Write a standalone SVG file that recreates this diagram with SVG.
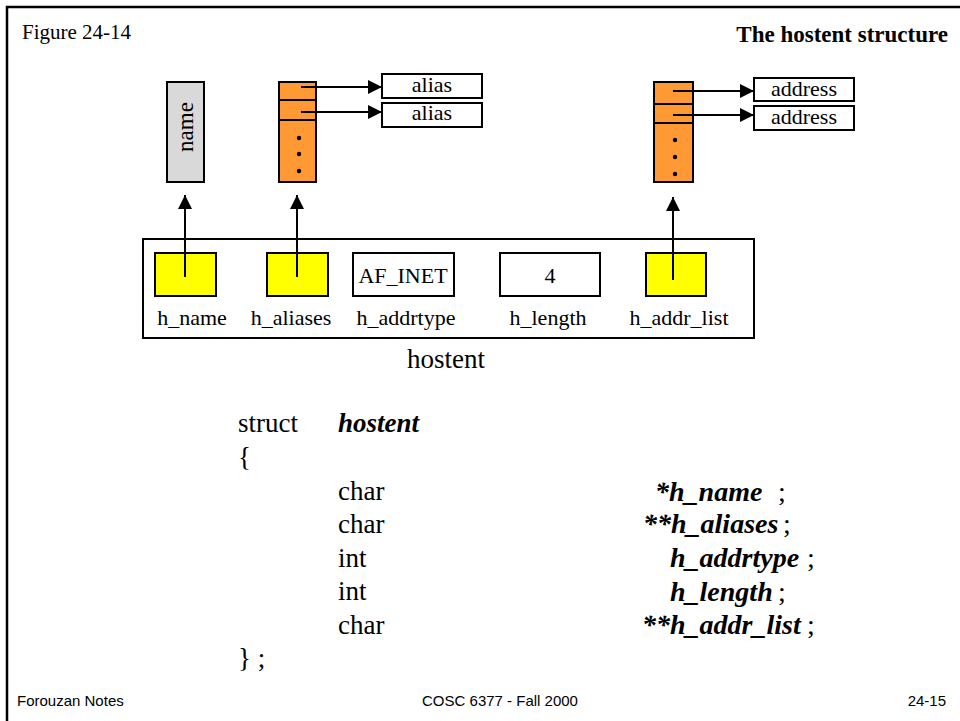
<svg xmlns="http://www.w3.org/2000/svg" width="960" height="721" viewBox="0 0 960 721">
<style>
text{font-family:"Liberation Serif","Times New Roman",serif;fill:#000}
.lbl{font-size:22px;text-anchor:middle}
.code{font-size:27px}
.rc{font-size:28px}
.bi{font-weight:bold;font-style:italic}
.foot{font-family:"Liberation Sans",Arial,sans-serif;font-size:15px}
.box{stroke:#000;stroke-width:2}
.ln{stroke:#000;stroke-width:2;fill:none}
</style>
<defs>
<marker id="ah" viewBox="0 0 14 14" refX="14" refY="7" markerWidth="14" markerHeight="14" markerUnits="userSpaceOnUse" orient="auto">
<path d="M0,0 L14,7 L0,14 Z" fill="#000"/>
</marker>
</defs>
<rect x="0" y="0" width="960" height="721" fill="#fff"/>
<path d="M7,721 L7,7 L960,7" fill="none" stroke="#000" stroke-width="2.5"/>
<text x="22" y="39" style="font-size:21px">Figure 24-14</text>
<text x="948" y="42" style="font-size:23px;font-weight:bold;text-anchor:end">The hostent structure</text>

<g id="name-box">
<rect class="box" x="167" y="82" width="37" height="100" fill="#d9d9d9"/>
<text class="lbl" transform="translate(193,127) rotate(-90)" style="font-size:23px">name</text>
</g>
<g id="aliases-array">
<rect class="box" x="279" y="82" width="37" height="100" fill="#ff9933"/>
<line class="ln" x1="279" y1="100" x2="316" y2="100"/>
<line class="ln" x1="279" y1="120" x2="316" y2="120"/>
<circle cx="299" cy="138" r="2.2" fill="#000"/>
<circle cx="299" cy="154" r="2.2" fill="#000"/>
<circle cx="299" cy="171" r="2.2" fill="#000"/>
</g>
<g id="alias1"><rect class="box" x="382" y="74" width="100" height="24" fill="#fff"/><text class="lbl" x="432" y="92">alias</text></g>
<g id="alias2"><rect class="box" x="382" y="103" width="100" height="24" fill="#fff"/><text class="lbl" x="432" y="120">alias</text></g>
<g id="addr-array">
<rect class="box" x="654" y="82" width="39" height="100" fill="#ff9933"/>
<line class="ln" x1="654" y1="104" x2="693" y2="104"/>
<line class="ln" x1="654" y1="123" x2="693" y2="123"/>
<circle cx="675" cy="140" r="2.2" fill="#000"/>
<circle cx="675" cy="157" r="2.2" fill="#000"/>
<circle cx="675" cy="174" r="2.2" fill="#000"/>
</g>
<g id="address1"><rect class="box" x="754" y="78" width="100" height="23" fill="#fff"/><text class="lbl" x="804" y="96">address</text></g>
<g id="address2"><rect class="box" x="754" y="106" width="100" height="24" fill="#fff"/><text class="lbl" x="804" y="124">address</text></g>

<g id="hostent">
<rect class="box" x="143" y="239" width="611" height="99" fill="#fff"/>
<rect class="box" x="155" y="253" width="61" height="43" fill="#ffff00"/>
<rect class="box" x="267" y="253" width="61" height="43" fill="#ffff00"/>
<rect class="box" x="353" y="253" width="101" height="43" fill="#fff"/>
<rect class="box" x="500" y="253" width="100" height="43" fill="#fff"/>
<rect class="box" x="646" y="253" width="60" height="43" fill="#ffff00"/>
<text class="lbl" x="403" y="283">AF_INET</text>
<text class="lbl" x="550" y="283">4</text>
<text class="lbl" x="192" y="325">h_name</text>
<text class="lbl" x="291" y="325">h_aliases</text>
<text class="lbl" x="406" y="325">h_addrtype</text>
<text class="lbl" x="548" y="325">h_length</text>
<text class="lbl" x="679" y="325">h_addr_list</text>
<text x="446" y="368" style="font-size:27px;text-anchor:middle">hostent</text>
</g>

<g id="connectors">
<line class="ln" x1="185" y1="277" x2="185" y2="195" marker-end="url(#ah)"/>
<line class="ln" x1="297" y1="277" x2="297" y2="195" marker-end="url(#ah)"/>
<line class="ln" x1="673" y1="280" x2="673" y2="197" marker-end="url(#ah)"/>
<line class="ln" x1="301" y1="87" x2="382" y2="87" marker-end="url(#ah)"/>
<line class="ln" x1="301" y1="112" x2="382" y2="112" marker-end="url(#ah)"/>
<line class="ln" x1="673" y1="91" x2="754" y2="91" marker-end="url(#ah)"/>
<line class="ln" x1="673" y1="115" x2="754" y2="115" marker-end="url(#ah)"/>
</g>

<g id="code">
<text class="code" x="238" y="432">struct</text>
<text class="code bi" x="338" y="432">hostent</text>
<text class="code" x="238" y="466">{</text>
<text class="code" x="338" y="500">char</text>
<text class="code" x="338" y="533">char</text>
<text class="code" x="338" y="567">int</text>
<text class="code" x="338" y="600">int</text>
<text class="code" x="338" y="634">char</text>
<text class="code" x="238" y="667">} ;</text>
<text class="rc bi" x="655" y="501">*h_name</text><text class="rc" x="778" y="501">;</text>
<text class="rc bi" x="643" y="533">**h_aliases</text><text class="rc" x="783" y="533">;</text>
<text class="rc bi" x="670" y="567">h_addrtype</text><text class="rc" x="807" y="567">;</text>
<text class="rc bi" x="670" y="601">h_length</text><text class="rc" x="778" y="601">;</text>
<text class="rc bi" x="642" y="634">**h_addr_list</text><text class="rc" x="807" y="634">;</text>
</g>

<text class="foot" x="17" y="706">Forouzan Notes</text>
<text class="foot" x="500" y="706" style="text-anchor:middle">COSC 6377 - Fall 2000</text>
<text class="foot" x="946" y="706" style="text-anchor:end">24-15</text>
</svg>
